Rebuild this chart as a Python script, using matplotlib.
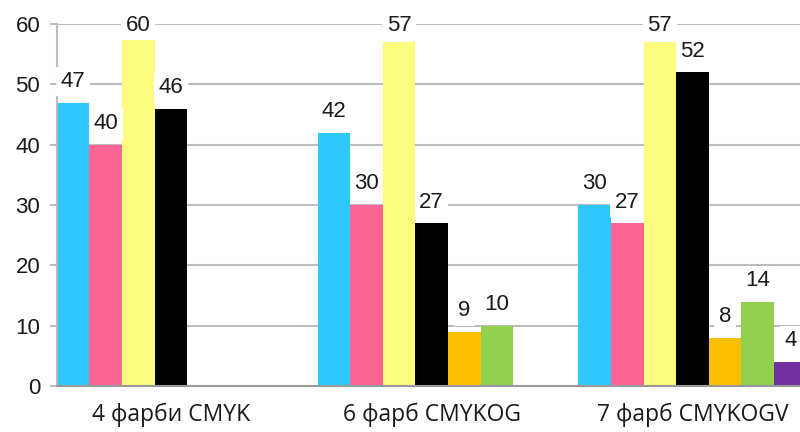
import numpy as np
import matplotlib
matplotlib.use("Agg")
import matplotlib.pyplot as plt

categories = ['4 фарби CMYK', '6 фарб CMYKOG', '7 фарб CMYKOGV']
cyan = [47, 42, 30]
magenta = [40, 30, 27]
yellow = [60, 57, 57]
black = [46, 27, 52]
orange = [np.nan, 9, 8]
green = [np.nan, 10, 14]
violet = [np.nan, np.nan, 4]
series = [cyan, magenta, yellow, black, orange, green, violet]
colors = ['#2ec8fc', '#fc6496', '#fcfc80', '#000000', '#fcbe00', '#92d050', '#7030a0']
yticks = [0, 10, 20, 30, 40, 50, 60]

fig = plt.figure(figsize=(8, 4.32), dpi=100)
ax = fig.add_axes([0.071, 0.1065, 0.929, 0.8375])
ax.set_axisbelow(True)
ax.grid(axis='y', color='#bcbcbc', linewidth=1.5)
group_step = 8
num_font = 'Liberation Sans'
for s, (vals, c) in enumerate(zip(series, colors)):
    for g, v in enumerate(vals):
        if np.isnan(v):
            continue
        x = g * group_step + s
        ax.bar(x, v, width=1.0, color=c, edgecolor='none', zorder=2)
for s, vals in enumerate(series):
    for g, v in enumerate(vals):
        if np.isnan(v):
            continue
        x = g * group_step + s
        ty = min(v + 3.5, 59.8)
        ax.text(x, ty, f'{v:g}', ha='center', va='center', fontsize=16,
                family=num_font, color='#1a1a1a', zorder=5, clip_on=False,
                bbox=dict(boxstyle='square,pad=0.2', fc='white', ec='none'))

ax.set_ylim(0, 60)
ax.set_xlim(-0.5, 22.3)
ax.set_yticks(yticks)
ax.set_yticklabels([str(t) for t in yticks], fontsize=16, family=num_font, color='#1a1a1a')
ax.tick_params(axis='y', length=5, color='#bcbcbc', width=1.5, pad=7)
ax.set_xticks([g * group_step + 3 for g in range(len(categories))])
ax.set_xticklabels(categories, fontsize=16.5, family='Open Sans', color='#1a1a1a')
ax.tick_params(axis='x', length=0, pad=12)
for side in ['top', 'right']:
    ax.spines[side].set_visible(False)
ax.spines['left'].set_color('#bcbcbc')
ax.spines['left'].set_linewidth(1.5)
ax.spines['bottom'].set_color('#999999')
ax.spines['bottom'].set_linewidth(1.5)
fig.savefig('out.png', dpi=100)
